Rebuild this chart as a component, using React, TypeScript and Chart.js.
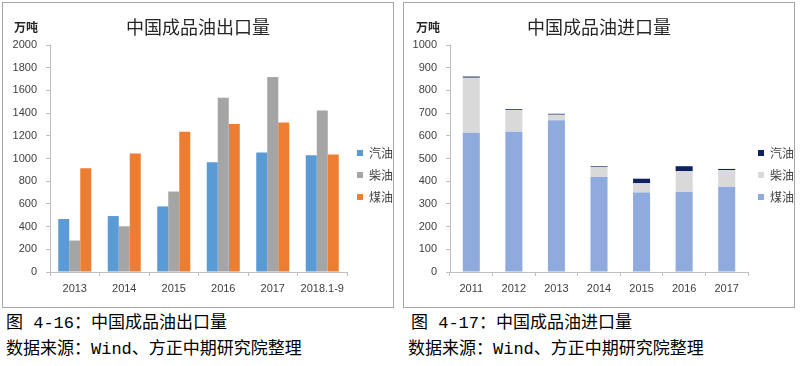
import React, { useEffect, useRef } from 'react';
import { Chart, registerables } from 'chart.js';

Chart.register(...registerables);

// ---- Data: export chart ----
const exportYears = ['2013', '2014', '2015', '2016', '2017', '2018.1-9'];
const exportGasoline = [467, 493, 578, 968, 1053, 1028];
const exportDiesel = [277, 403, 709, 1536, 1718, 1424];
const exportKerosene = [914, 1045, 1235, 1304, 1318, 1035];

// ---- Data: import chart ----
const importYears = ['2011', '2012', '2013', '2014', '2015', '2016', '2017'];
const importKerosene = [613, 618, 669, 418, 350, 354, 376];
const importDiesel = [243, 95, 24, 45, 41, 90, 73];
const importGasoline = [5, 4, 4, 3, 20, 22, 5];

const seriesNames = ['汽油', '柴油', '煤油'];

const TICK_FONT = "'Liberation Sans', 'Noto Sans CJK SC', sans-serif";
const CJK_FONT = "'Noto Sans CJK SC', sans-serif";
const AXIS_COLOR = '#bfbfbf';
const TEXT_COLOR = '#404040';

const unitPlugin = {
  id: 'unitLabel',
  afterDraw(chart: any) {
    const ctx = chart.ctx;
    ctx.save();
    ctx.font = `bold 12px ${CJK_FONT}`;
    ctx.fillStyle = '#262626';
    ctx.textAlign = 'left';
    ctx.textBaseline = 'middle';
    ctx.fillText('万吨', chart.options.plugins.unitLabel.x, 24);
    ctx.restore();
  },
};

function makeOptions(title: string, max: number, step: number, stacked: boolean, axisLeft: number, unitX: number) {
  return {
    responsive: false,
    animation: false,
    layout: { padding: { left: 0, right: 0, top: 0, bottom: 0 } },
    plugins: {
      unitLabel: { x: unitX },
      tooltip: { enabled: false },
      title: {
        display: true,
        text: title,
        color: '#262626',
        font: { family: CJK_FONT, size: 18, weight: 'normal', lineHeight: 1.2 },
        padding: { top: 13, bottom: 7.4 },
      },
      legend: {
        display: true,
        position: 'right',
        align: 'center',
        fullSize: false,
        reverse: stacked,
        maxWidth: 46,
        title: { display: true, text: '', font: { size: 10, lineHeight: 1 }, padding: { top: 0, bottom: 23 } },
        labels: {
          boxWidth: 6,
          boxHeight: 6,
          padding: 10,
          color: '#404040',
          font: { family: CJK_FONT, size: 12 },
        },
      },
    },
    scales: {
      x: {
        stacked,
        grid: { display: true, drawOnChartArea: false, drawTicks: true, tickLength: 4, color: AXIS_COLOR, offset: true },
        border: { display: true, color: AXIS_COLOR },
        ticks: { color: TEXT_COLOR, font: { family: TICK_FONT, size: 11 }, padding: 6, maxRotation: 0, autoSkip: false },
        afterFit: (scale: any) => { scale.height = 35; },
      },
      y: {
        stacked,
        min: 0,
        max,
        grid: { display: true, drawOnChartArea: false, drawTicks: true, tickLength: 4, color: AXIS_COLOR },
        border: { display: true, color: AXIS_COLOR },
        ticks: {
          stepSize: step,
          color: TEXT_COLOR,
          font: { family: TICK_FONT, size: 11 },
          padding: 9,
          callback: (v: any) => String(v),
        },
        afterFit: (scale: any) => { scale.width = axisLeft; },
      },
    },
  };
}

function ExportChart() {
  const ref = useRef<HTMLCanvasElement>(null);
  useEffect(() => {
    const chart = new Chart(ref.current as HTMLCanvasElement, {
      type: 'bar',
      data: {
        labels: exportYears,
        datasets: [
          { label: seriesNames[0], data: exportGasoline, backgroundColor: '#5b9bd5', categoryPercentage: 0.667, barPercentage: 1 },
          { label: seriesNames[1], data: exportDiesel, backgroundColor: '#a5a5a5', categoryPercentage: 0.667, barPercentage: 1 },
          { label: seriesNames[2], data: exportKerosene, backgroundColor: '#ed7d31', categoryPercentage: 0.667, barPercentage: 1 },
        ],
      },
      options: makeOptions('中国成品油出口量', 2000, 200, false, 47, 11) as any,
      plugins: [unitPlugin],
    });
    return () => chart.destroy();
  }, []);
  return <canvas ref={ref} width={390} height={304} style={{ position: 'absolute', left: 3, top: 3 }} />;
}

function ImportChart() {
  const ref = useRef<HTMLCanvasElement>(null);
  useEffect(() => {
    const chart = new Chart(ref.current as HTMLCanvasElement, {
      type: 'bar',
      data: {
        labels: importYears,
        datasets: [
          { label: seriesNames[2], data: importKerosene, backgroundColor: '#8faadc', categoryPercentage: 0.4, barPercentage: 1 },
          { label: seriesNames[1], data: importDiesel, backgroundColor: '#d9d9d9', categoryPercentage: 0.4, barPercentage: 1 },
          { label: seriesNames[0], data: importGasoline, backgroundColor: '#0f2161', categoryPercentage: 0.4, barPercentage: 1 },
        ],
      },
      options: makeOptions('中国成品油进口量', 1000, 100, true, 46, 12) as any,
      plugins: [unitPlugin],
    });
    return () => chart.destroy();
  }, []);
  return <canvas ref={ref} width={390} height={304} style={{ position: 'absolute', left: 404, top: 3 }} />;
}

const captionStyle: React.CSSProperties = {
  position: 'absolute',
  fontFamily: "'Liberation Mono', 'Noto Sans CJK SC', monospace",
  fontSize: 17,
  lineHeight: '20px',
  color: '#000',
  whiteSpace: 'nowrap',
};

export default function App() {
  return (
    <div style={{ position: 'fixed', left: 0, top: 0, width: 801, height: 366, background: '#fff', overflow: 'hidden' }}>
      <div style={{ position: 'absolute', left: 2, top: 2, width: 390, height: 304, border: '1px solid #a6a6a6' }} />
      <div style={{ position: 'absolute', left: 403, top: 2, width: 390, height: 304, border: '1px solid #a6a6a6' }} />
      <ExportChart />
      <ImportChart />
      <div style={{ ...captionStyle, left: 6, top: 314 }}>图 4-16：中国成品油出口量</div>
      <div style={{ ...captionStyle, left: 6, top: 340 }}>数据来源：Wind、方正中期研究院整理</div>
      <div style={{ ...captionStyle, left: 411, top: 314 }}>图 4-17：中国成品油进口量</div>
      <div style={{ ...captionStyle, left: 408, top: 340 }}>数据来源：Wind、方正中期研究院整理</div>
    </div>
  );
}
